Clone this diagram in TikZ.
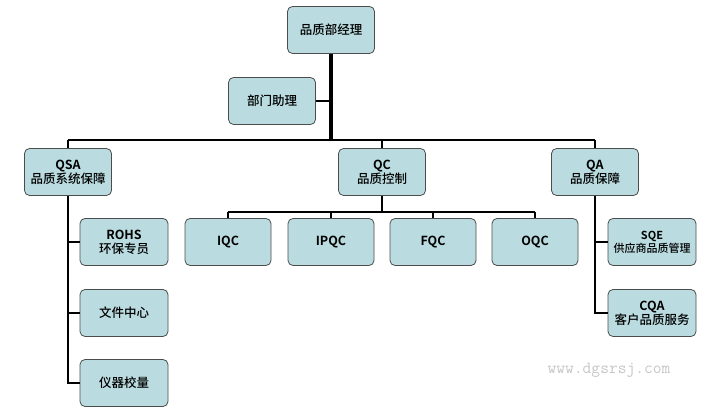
\documentclass[tikz,border=0pt]{standalone}
\usepackage{fontspec}
\setmainfont{Noto Sans CJK SC}[UprightFont=* Medium, BoldFont=* Bold]
\begin{document}
\begin{tikzpicture}[x=1pt, y=-1pt, line width=2.7pt]
    \tikzstyle{box}=[draw=gray!60!black, line width=0.8pt, rounded corners=5pt, fill={rgb,255:red,186;green,220;blue,224}, minimum width=87pt, minimum height=47pt, align=center, font=\fontsize{12.5}{14}\selectfont, inner sep=1pt]
    \useasboundingbox (0,0) rectangle (722,419);

        % Nós
        \node[box] (gm) at (331,30) {品质部经理};
        \node[box] (as) at (272,101) {部门助理};
        \node[box] (qsa) at (68,172) {\textbf{QSA}\\品质系统保障};
        \node[box] (qc) at (382,172) {\textbf{QC}\\品质控制};
        \node[box] (qa) at (595,172) {\textbf{QA}\\品质保障};
        \node[box, minimum width=86pt] (iqc) at (228,242) {\textbf{IQC}};
        \node[box, minimum width=86pt] (ipqc) at (331,242) {\textbf{IPQC}};
        \node[box, minimum width=86pt] (fqc) at (433,242) {\textbf{FQC}};
        \node[box, minimum width=86pt] (oqc) at (535,242) {\textbf{OQC}};
        \node[box, minimum width=88pt] (rohs) at (124,242) {\textbf{ROHS}\\环保专员};
        \node[box, minimum width=88pt] (doc) at (124,313) {文件中心};
        \node[box, minimum width=88pt] (cal) at (124,383) {仪器校量};
        \node[box, minimum width=88pt, font=\fontsize{11}{13}\selectfont] (sqe) at (652,242) {\textbf{SQE}\\供应商品质管理};
        \node[box, minimum width=88pt] (cqa) at (652,313) {\textbf{CQA}\\客户品质服务};
        \coordinate (hub) at (331,140);
        \coordinate (qcbus) at (382,212);

        % Arestas
        \draw[line width=4pt] (gm) -- (hub);
        \draw (as) -- (as -| hub);
        \draw (hub -| qsa) -- (hub -| qa);
        \draw (hub -| qsa) -- (qsa);
        \draw (hub -| qc) -- (qc);
        \draw (hub -| qa) -- (qa);
        \draw (qc) -- (qcbus);
        \draw (qcbus -| iqc) -- (qcbus -| oqc);
        \foreach \n in {iqc, ipqc, fqc, oqc}
            \draw (qcbus -| \n) -- (\n);
        \draw (qsa) -- (cal -| qsa) -- (cal);
        \draw (rohs -| qsa) -- (rohs);
        \draw (doc -| qsa) -- (doc);
        \draw (qa) -- (cqa -| qa) -- (cqa);
        \draw (sqe -| qa) -- (sqe);

        \node[text=gray!45, font=\ttfamily\fontsize{17}{17}\selectfont] (wm) at (609,370) {www.dgsrsj.com};
\end{tikzpicture}
\end{document}
